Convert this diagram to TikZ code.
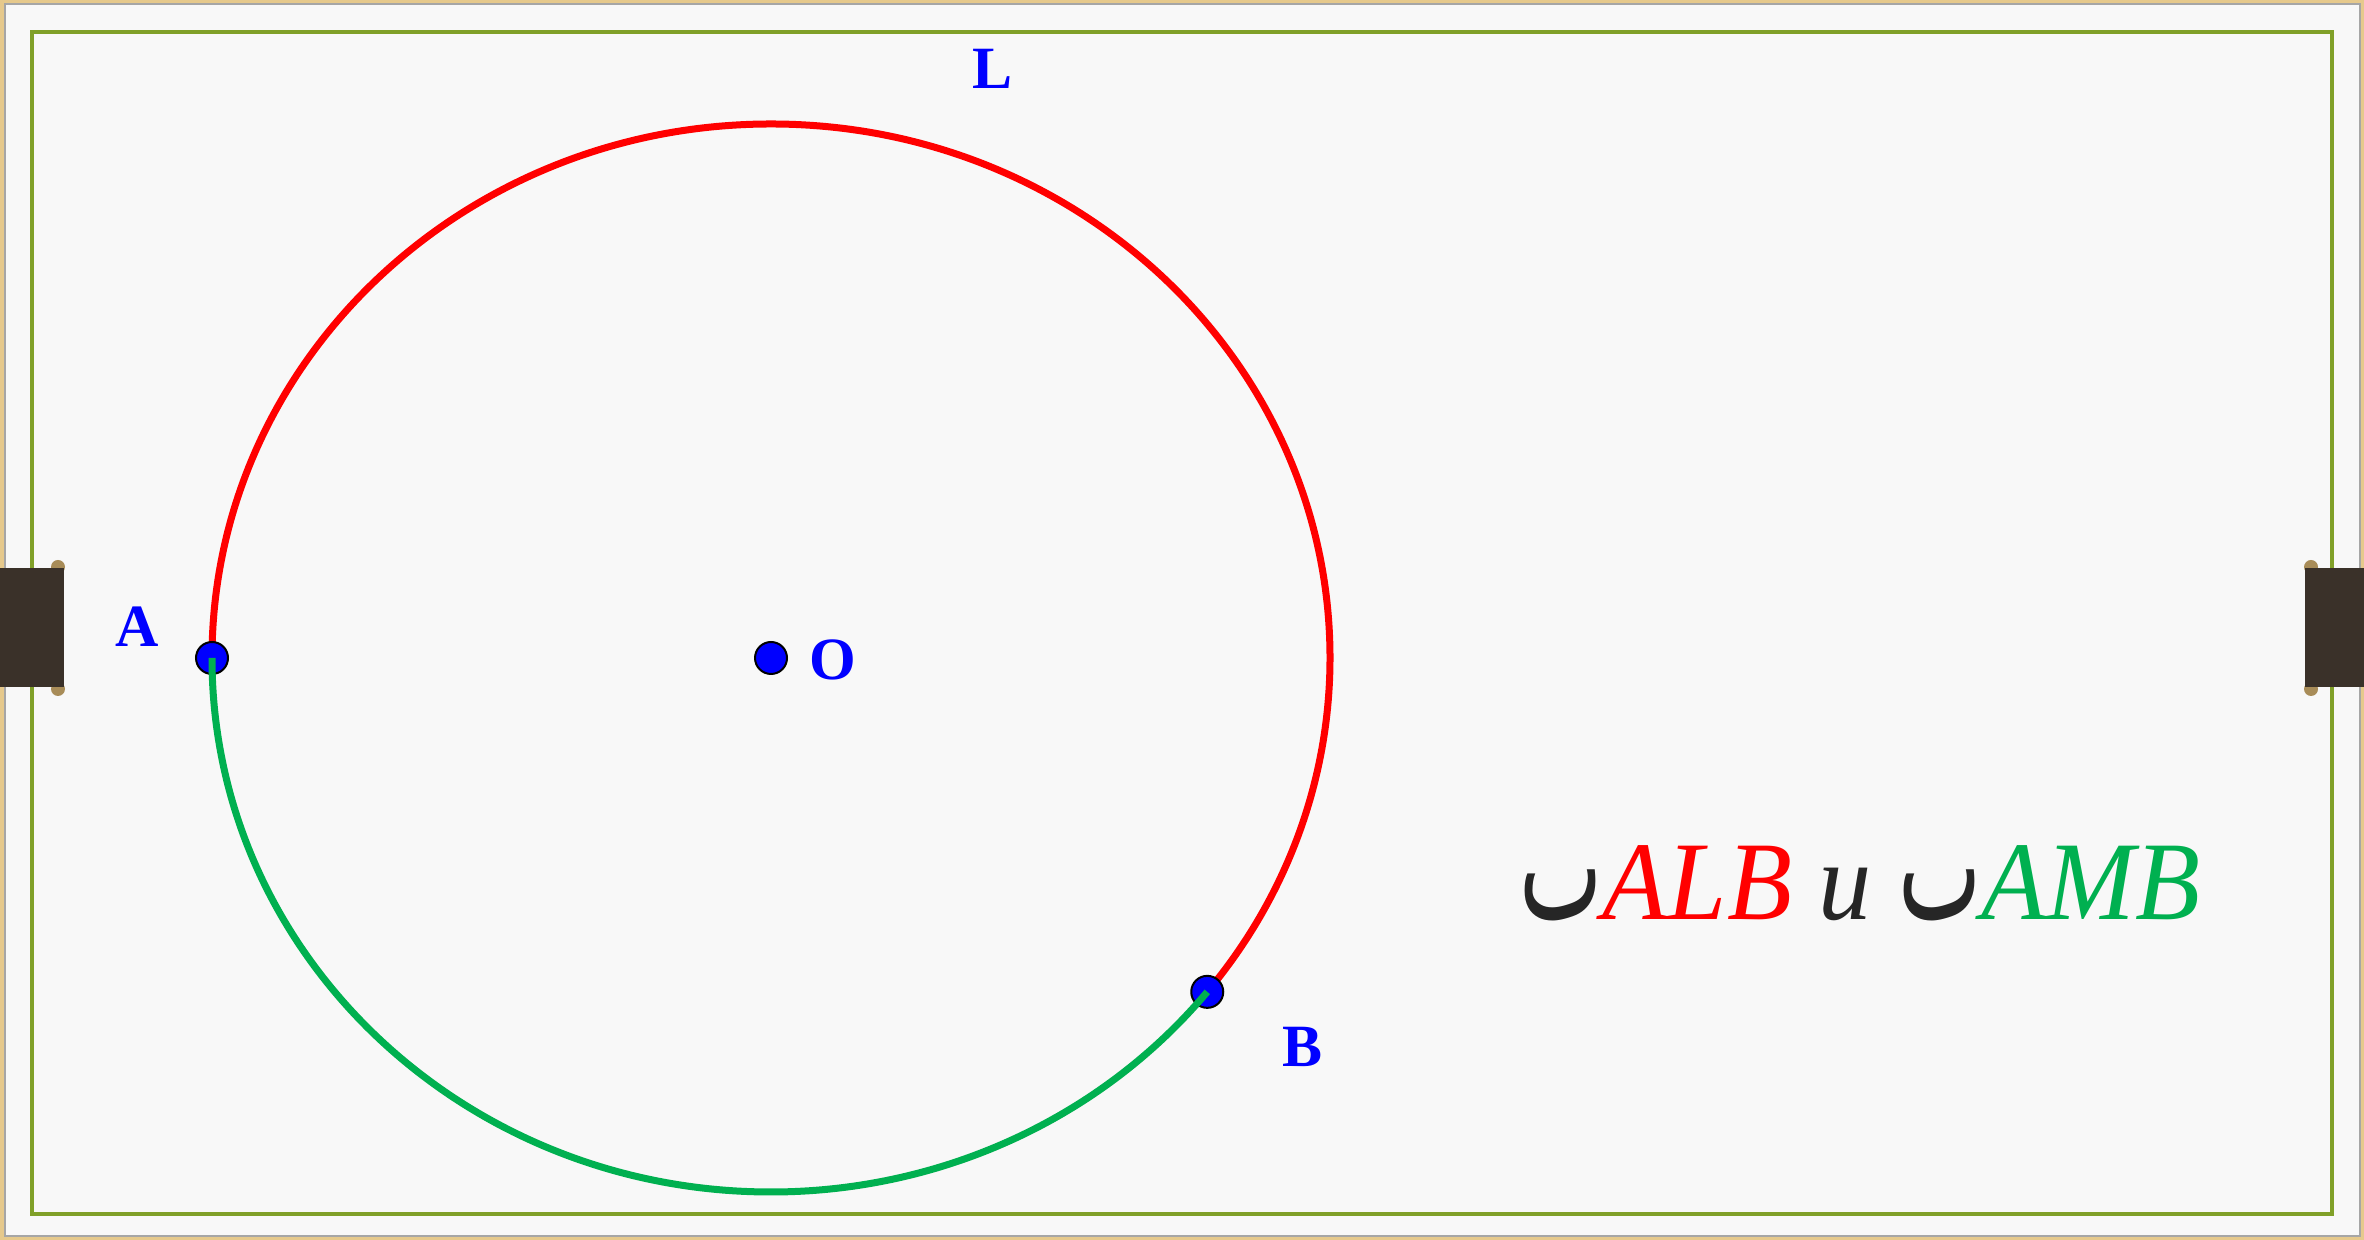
\documentclass[tikz,border=0pt]{standalone}
\usepackage{graphicx}
\usepackage{fontspec}
\setmainfont{Liberation Serif}
\newfontfamily\arabicfont[Script=Arabic]{DejaVu Sans}
\TeXXeTstate=1
\definecolor{frametan}{HTML}{E6C98C}
\definecolor{paper}{HTML}{F8F8F8}
\definecolor{olivegreen}{HTML}{80A028}
\definecolor{tabbrown}{HTML}{3A3129}
\definecolor{knob}{HTML}{A88C58}
\definecolor{arcred}{HTML}{FF0000}
\definecolor{arcgreen}{HTML}{00B050}
\definecolor{ptblue}{HTML}{0000FF}
\definecolor{inkgray}{HTML}{262626}
\newcommand{\arcsym}{{\color{inkgray}\scalebox{0.83}[1.36]{\arabicfont\beginR ٮ\endR}}}
\tikzset{
  redarc/.style={draw=arcred, line width=3.5pt},
  greenarc/.style={draw=arcgreen, line width=3.5pt},
  ptdot/.style={circle, fill=ptblue, draw=black, line width=1pt, minimum size=16pt, inner sep=0pt},
  ptlabel/.style={text=ptblue, font=\fontsize{30}{36}\selectfont\bfseries, inner sep=0pt},
}
\begin{document}
\begin{tikzpicture}[x=0.5pt,y=0.5pt]
\useasboundingbox (0,0) rectangle (2364,1240);
% frame
\fill[frametan] (0,0) rectangle (2364,1240);
\fill[paper] (5,4) rectangle (2360,1236);
\draw[gray!70, line width=0.6pt] (5,4) rectangle (2360,1236);
\draw[olivegreen, line width=2pt] (32,26) rectangle (2332,1208);
% tabs
\fill[knob] (58,673) circle (7);
\fill[knob] (58,551) circle (7);
\fill[tabbrown] (0,553) rectangle (64,672);
\fill[knob] (2311,673) circle (7);
\fill[knob] (2311,551) circle (7);
\fill[tabbrown] (2305,553) rectangle (2364,672);
% geometry
\coordinate (O) at (771,582);
\coordinate (A) at (212,582);
\coordinate (B) at ([shift={(-38.7:559 and 534)}]O);
\draw[redarc] (A) arc[start angle=180, end angle=-38.7, x radius=279.5pt, y radius=267pt];
\node[ptdot] (dA) at (A) {};
\node[ptdot] (dB) at (B) {};
\node[ptdot] (dO) at (O) {};
\draw[greenarc] (A) arc[start angle=180, end angle=321.3, x radius=279.5pt, y radius=267pt];
% labels
\node[ptlabel] (lA) at (137,613) {A};
\node[ptlabel] (lO) at (833,580) {O};
\node[ptlabel] (lB) at (1302,193) {B};
\node[ptlabel] (lL) at (992,1171) {L};
% formula
\node[anchor=base, inner sep=0pt, font=\fontsize{56}{64}\selectfont] (F) at (1860,320)
 {\scalebox{0.95}[1]{\arcsym\textcolor{arcred}{\itshape ALB} {\color{inkgray}\itshape и} \arcsym\textcolor{arcgreen}{\itshape AMB}}};
\end{tikzpicture}
\end{document}
